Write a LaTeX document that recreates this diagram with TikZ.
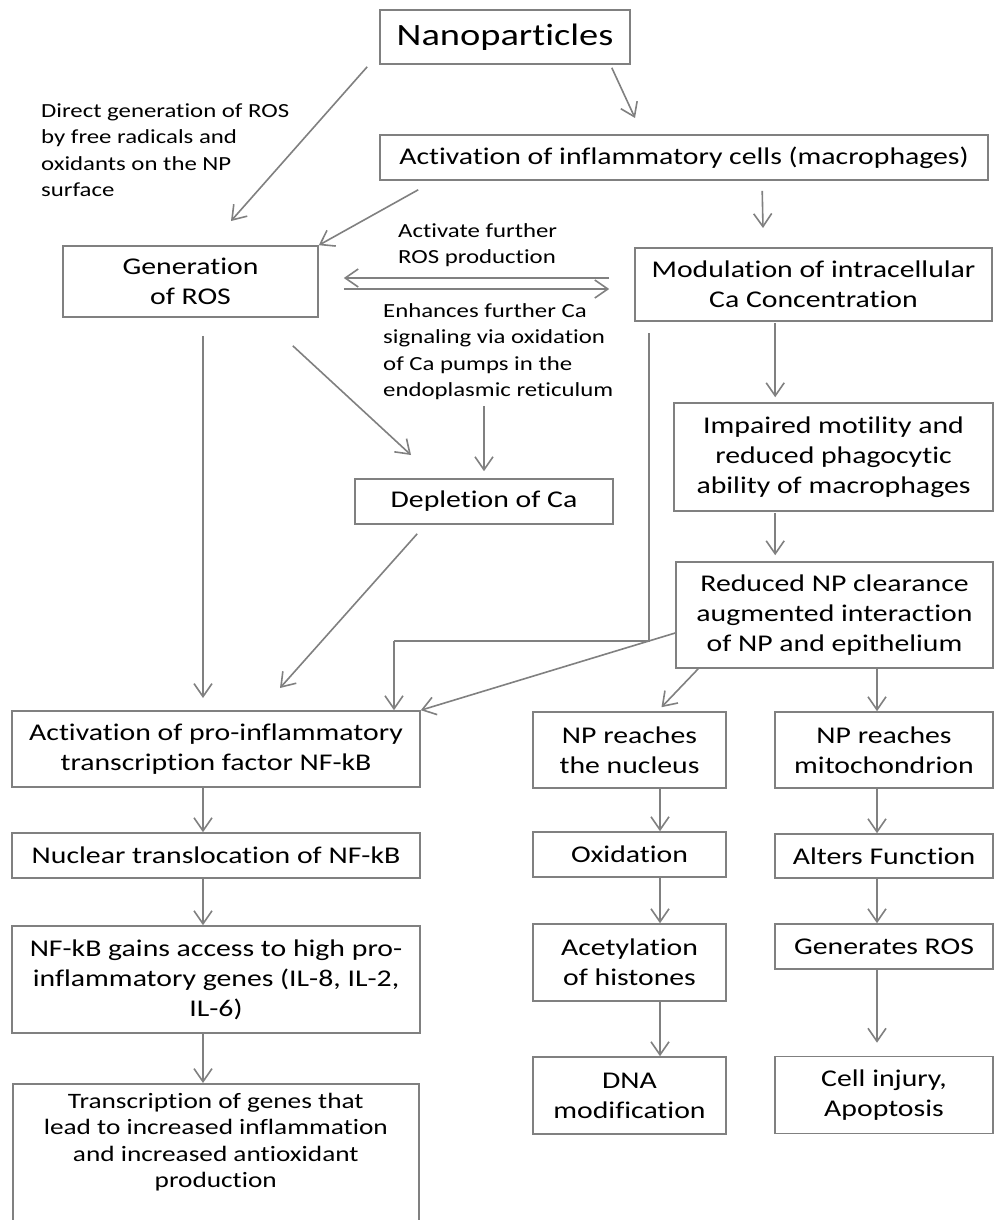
\documentclass[tikz,border=0pt]{standalone}
\usepackage{fontspec}
\setmainfont{Carlito}[FakeStretch=1.24, Ligatures={NoCommon}, Contextuals={NoAlternate}, RawFeature=-dlig]
\usetikzlibrary{arrows.meta,calc}
\definecolor{lg}{HTML}{808080}
\tikzset{
 box/.style={draw=lg, line width=1.6pt, align=center, inner sep=2pt, font=\fontsize{24}{30}\selectfont},
 arr/.style={draw=lg, line width=1.6pt, -{Straight Barb[length=13pt,width=18pt]}},
 conn/.style={draw=lg, line width=1.6pt},
 lbl/.style={align=left, inner sep=0pt, font=\fontsize{20}{26.5}\selectfont},
}
\begin{document}
\begin{tikzpicture}[x=1pt,y=-1pt]
\useasboundingbox (0,0) rectangle (994,1220);
\fill[white] (0,0) rectangle (994,1220);
% column x positions for connectors
\coordinate (xL) at (203,0);
\coordinate (xM) at (660,0);
\coordinate (xR) at (877,0);
% boxes
\node[box, minimum width=250, minimum height=54, font=\fontsize{31}{38}\selectfont] (np) at (505,37) {Nanoparticles};
\node[box, minimum width=608, minimum height=45] (act) at (684,157.5) {Activation of inflammatory cells (macrophages)};
\node[box, minimum width=255, minimum height=71] (gen) at (190.5,281.5) {Generation\\of ROS};
\node[box, minimum width=357, minimum height=73] (mod) at (813.5,284.5) {Modulation of intracellular\\Ca Concentration};
\node[box, minimum width=319, minimum height=108] (imp) at (833.5,457) {Impaired motility and\\reduced phagocytic\\ability of macrophages};
\node[box, minimum width=317, minimum height=106] (red) at (834.5,615) {Reduced NP clearance\\augmented interaction\\of NP and epithelium};
\node[box, minimum width=258, minimum height=45] (dep) at (484,501.5) {Depletion of Ca};
\node[box, minimum width=408, minimum height=76] (nfkb) at (216,749) {Activation of pro-inflammatory\\transcription factor NF-kB};
\node[box, minimum width=408, minimum height=45] (nuc) at (216,855.5) {Nuclear translocation of NF-kB};
\node[box, minimum width=408, minimum height=107] (gain) at (216,979.5) {NF-kB gains access to high pro-\\inflammatory genes (IL-8, IL-2,\\IL-6)};
\node[box, anchor=north west, inner sep=6pt] (tr) at (12,1083) {\begin{minipage}[c][135pt][t]{394pt}\centering\fontsize{22}{26.5}\selectfont\strut Transcription of genes that\\lead to increased inflammation\\and increased antioxidant\\production\end{minipage}};
\node[box, minimum width=193, minimum height=76] (nucl) at (629.5,750) {NP reaches\\the nucleus};
\node[box, minimum width=218, minimum height=76] (mito) at (884,750) {NP reaches\\mitochondrion};
\node[box, minimum width=193, minimum height=45] (oxi) at (629.5,854.5) {Oxidation};
\node[box, minimum width=218, minimum height=44] (alt) at (884,856) {Alters Function};
\node[box, minimum width=193, minimum height=77] (acet) at (629.5,962.5) {Acetylation\\of histones};
\node[box, minimum width=218, minimum height=45] (gros) at (884,946.5) {Generates ROS};
\node[box, minimum width=193, minimum height=77] (dna) at (629.5,1095.5) {DNA\\modification};
\node[box, minimum width=218, minimum height=77] (cell) at (884,1095) {Cell injury,\\Apoptosis};
% labels
\node[lbl, anchor=west] (l1) at (41,150) {Direct generation of ROS\\by free radicals and\\oxidants on the NP\\surface};
\node[lbl, anchor=west] (l2) at (398,245) {Activate further\\ROS production};
\node[lbl, anchor=west] (l3) at (383,351.5) {Enhances further Ca\\signaling via oxidation\\of Ca pumps in the\\endoplasmic reticulum};
% free ends
\coordinate (e1) at (231,221);
\coordinate (e2) at (635,118);
\coordinate (e4) at (763,228);
\coordinate (e6) at (411,455);
\coordinate (e8) at (203,698);
\coordinate (e9) at (280,688);
\coordinate (m1) at (649,333);
\coordinate (m2) at (649,641);
\coordinate (m3) at (394,641);
% connectors
\draw[arr] ($(np.south west)+(-12,2)$) -- (e1);
\draw[arr] ($(np.south east)+(-19,3)$) -- (e2);
\draw[arr] ($(act.south west)+(39,9)$) -- (gen.north east);
\draw[arr] ($(act.south west)+(383,10)$) -- (e4);
\draw[arr] ($(mod.west)+(-25,-6.5)$) -- ($(gen.east)+(25,-3.5)$);
\draw[arr] ($(gen.east)+(25,7.5)$) -- ($(mod.west)+(-25,4.5)$);
\draw[arr] ($(gen.south east)+(-26,28)$) -- (e6);
\draw[arr] ($(l3.south west)+(101,6)$) -- ($(dep.north)+(0,-7)$);
\draw[arr] ($(gen.south -| xL)+(0,18)$) -- (e8);
\draw[arr] ($(dep.south west)+(63,9)$) -- (e9);
\draw[conn] (m1) -- (m2) -- (m3);
\draw[arr] (m3) -- (m3 |- nfkb.north);
\draw[arr] ($(red.west)+(0,18)$) -- (nfkb.north east);
\draw[arr] ($(mod.south west)+(141,1)$) -- ($(imp.north west)+(102,-5)$);
\draw[arr] ($(imp.south west)+(102,1)$) -- ($(red.north west)+(100,-6)$);
\draw[arr] ($(red.south west)+(23,0)$) -- ($(nucl.north)+(32,-4)$);
\draw[arr] (red.south -| xR) -- (mito.north -| xR);
\draw[arr] (nfkb.south -| xL) -- (nuc.north -| xL);
\draw[arr] (nuc.south -| xL) -- (gain.north -| xL);
\draw[arr] (gain.south -| xL) -- (tr.north -| xL);
\draw[arr] (nucl.south -| xM) -- (oxi.north -| xM);
\draw[arr] (oxi.south -| xM) -- (acet.north -| xM);
\draw[arr] (acet.south -| xM) -- (dna.north -| xM);
\draw[arr] (mito.south -| xR) -- (alt.north -| xR);
\draw[arr] (alt.south -| xR) -- (gros.north -| xR);
\draw[arr] (gros.south -| xR) -- ($(cell.north -| xR)+(0,-13)$);
\end{tikzpicture}
\end{document}
